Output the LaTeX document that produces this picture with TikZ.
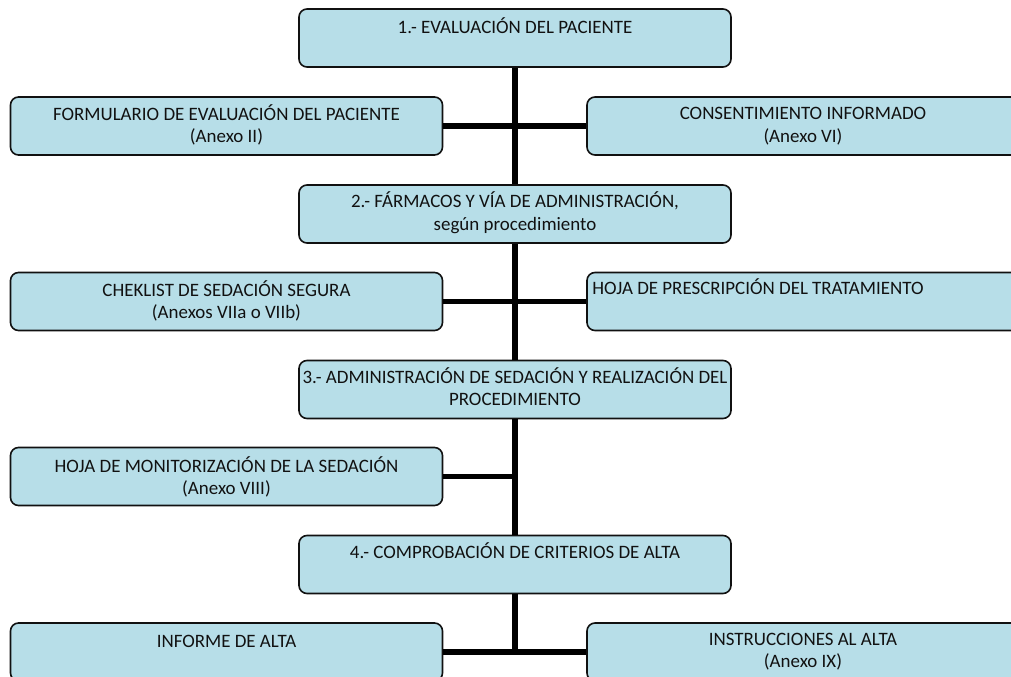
\documentclass[tikz,border=0pt]{standalone}
\usepackage{fontspec}
\setmainfont{Carlito}
\usepackage{tikz}
\usetikzlibrary{positioning}
\definecolor{boxfill}{HTML}{B7DEE8}
\definecolor{ink}{HTML}{111111}

\begin{document}
\begin{tikzpicture}[x=0.75pt,y=-0.75pt,
  box/.style={draw=ink, line width=1.2pt, rounded corners=6pt, fill=boxfill,
    minimum width=324pt, minimum height=43.5pt, inner sep=0pt},
  txt/.style={inner sep=0pt, align=center, text=ink, font=\fontsize{14.2}{17}\selectfont},
  conn/.style={line width=4.2pt, draw=black}]
\useasboundingbox (0,0) rectangle (1011,677);
\clip (0,0) rectangle (1011,677);
% boxes
\node[box] (ev) at (515,38) {};
\node[box] (form) at (226.5,126) {};
\node[box] (cons) at (803,126) {};
\node[box] (farm) at (515,214) {};
\node[box] (chek) at (226.5,301.5) {};
\node[box] (presc) at (803,301.5) {};
\node[box] (adm) at (515,389.5) {};
\node[box] (mon) at (226.5,476.5) {};
\node[box] (comp) at (515,564.5) {};
\node[box] (inf) at (226.5,652) {};
\node[box] (instr) at (803,652) {};
% connectors
\draw[conn] (ev.south) -- (farm.north);
\draw[conn] (form.east) -- (cons.west);
\draw[conn] (farm.south) -- (adm.north);
\draw[conn] (chek.east) -- (presc.west);
\draw[conn] (adm.south) -- (comp.north);
\draw[conn] (mon.east) -- (mon.east -| adm.south);
\draw[conn] (comp.south) -- (comp.south |- inf.east);
\draw[conn] (inf.east) -- (instr.west);
% texts
\node[txt] (evT) at (515,26) {1.- EVALUACIÓN DEL PACIENTE};
\node[txt] (formT) at (226.5,125) {FORMULARIO DE EVALUACIÓN DEL PACIENTE\\[0pt](Anexo II)};
\node[txt] (consT) at (803,126) {CONSENTIMIENTO INFORMADO\\[0pt](Anexo VI)};
\node[txt] (farmT) at (515,213) {2.- FÁRMACOS Y VÍA DE ADMINISTRACIÓN,\\[0pt]según procedimiento};
\node[txt] (chekT) at (226.5,301) {CHEKLIST DE SEDACIÓN SEGURA\\[0pt](Anexos VIIa o VIIb)};
\node[txt, anchor=west] (prescT) at (592,287) {HOJA DE PRESCRIPCIÓN DEL TRATAMIENTO};
\node[txt] (admT) at (515,387) {3.- ADMINISTRACIÓN DE SEDACIÓN Y REALIZACIÓN DEL\\[-0.5pt]PROCEDIMIENTO};
\node[txt] (monT) at (226.5,477) {HOJA DE MONITORIZACIÓN DE LA SEDACIÓN\\[0pt](Anexo VIII)};
\node[txt] (compT) at (515,551) {4.- COMPROBACIÓN DE CRITERIOS DE ALTA};
\node[txt] (infT) at (226.5,641) {INFORME DE ALTA};
\node[txt] (instrT) at (803,652) {INSTRUCCIONES AL ALTA\\[-0.5pt](Anexo IX)};
\end{tikzpicture}
\end{document}
